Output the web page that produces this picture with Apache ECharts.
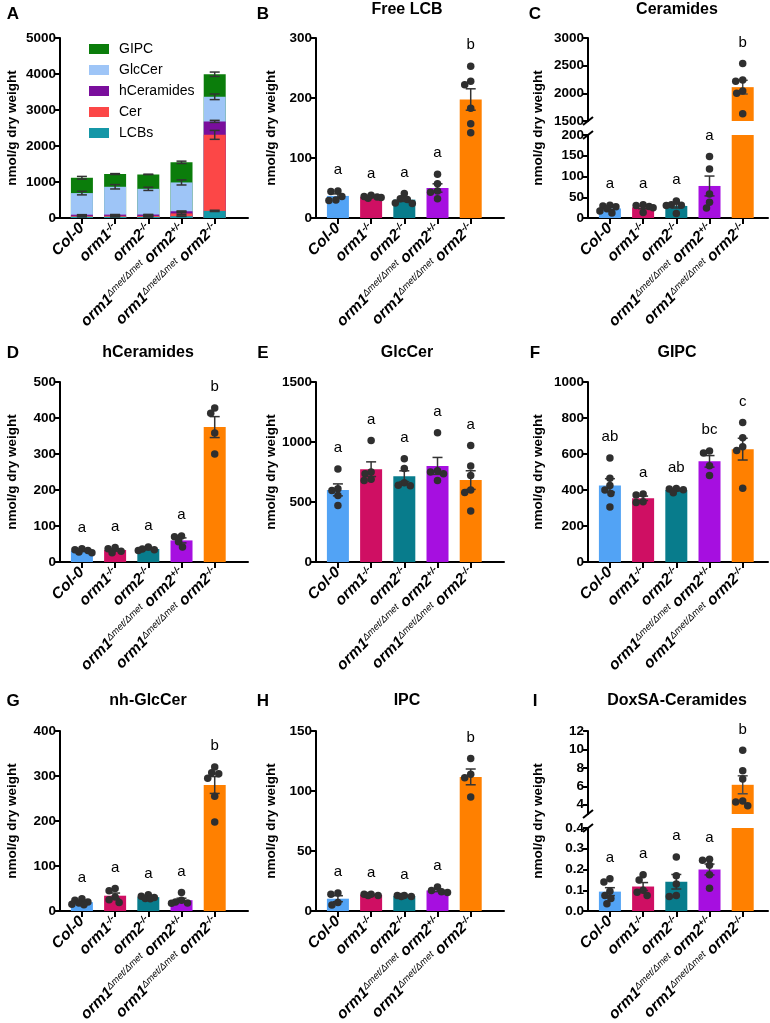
<!DOCTYPE html>
<html><head><meta charset="utf-8">
<script src="https://cdn.jsdelivr.net/npm/echarts@6/dist/echarts.min.js"></script>
<style>html,body{margin:0;padding:0;background:#fff}#c{width:770px;height:1023px}</style>
</head><body><div id="c"></div>
<script>
// ---------------- DATA ----------------
const groups = ['Col-0', 'orm1-/-', 'orm2-/-', 'orm1Δmet/Δmet orm2+/-', 'orm1Δmet/Δmet orm2-/-'];
const groupLabels = [
  '{i|Col-0}',
  '{i|orm1}{s|-/-}',
  '{i|orm2}{s|-/-}',
  '{i|orm1}{d|Δmet/Δmet}{i| orm2}{s|+/-}',
  '{i|orm1}{d|Δmet/Δmet}{i| orm2}{s|-/-}'
];
const groupColors = ['#52a3f5', '#cf0f63', '#087c8c', '#a60fe0', '#ff8000'];

// individual replicate values (nmol/g dry weight)
const freeLcb = [
  [45, 44, 36, 29, 30],
  [38, 36, 35, 33, 34],
  [41, 32, 31, 24, 25],
  [73, 45, 43, 57, 32],
  [253, 228, 222, 183, 157, 142]
];
const ceramides = [
  [31, 29, 27, 17, 12, 22],
  [32, 30, 28, 25, 13],
  [41, 31, 32, 30, 11],
  [148, 118, 58, 38, 24],
  [2540, 2240, 2220, 2040, 2000, 1630]
];
const hCeramides = [
  [37, 34, 32, 26, 28],
  [40, 37, 30, 26],
  [42, 36, 34, 32],
  [72, 70, 56, 42],
  [428, 413, 358, 300]
];
const glcCer = [
  [775, 610, 595, 555, 470],
  [1012, 750, 735, 690, 680],
  [860, 780, 660, 640, 635],
  [1078, 760, 750, 735, 680],
  [970, 800, 720, 600, 580, 425]
];
const gipc = [
  [578, 465, 425, 400, 380, 305],
  [378, 372, 335, 330],
  [405, 408, 402, 385],
  [617, 605, 535, 480],
  [775, 690, 640, 620, 410]
];
const nhGlcCer = [
  [27, 24, 20, 18, 15, 14],
  [50, 45, 31, 25, 19],
  [36, 33, 30, 28, 27],
  [41, 24, 20, 18, 17],
  [320, 307, 305, 295, 255, 198]
];
const ipc = [
  [15, 14, 7, 5],
  [14, 14, 13, 13],
  [13, 13, 12, 12],
  [20, 17, 16, 15.5],
  [127, 114, 111, 95]
];
const doxSaCer = [
  [0.155, 0.14, 0.095, 0.075, 0.06, 0.035],
  [0.175, 0.15, 0.10, 0.09, 0.075],
  [0.26, 0.17, 0.13, 0.075, 0.07],
  [0.25, 0.245, 0.22, 0.175, 0.11],
  [9.9, 7.7, 6.8, 4.4, 4.3, 3.9]
];

const lettersB = ['a', 'a', 'a', 'a', 'b'];
const lettersC = ['a', 'a', 'a', 'a', 'b'];
const lettersD = ['a', 'a', 'a', 'a', 'b'];
const lettersE = ['a', 'a', 'a', 'a', 'a'];
const lettersF = ['ab', 'a', 'ab', 'bc', 'c'];
const lettersG = ['a', 'a', 'a', 'a', 'b'];
const lettersH = ['a', 'a', 'a', 'a', 'b'];
const lettersI = ['a', 'a', 'a', 'a', 'b'];

// stacked panel A (components = means of panels B-F), bottom to top
const stackNames = ['LCBs', 'Cer', 'hCeramides', 'GlcCer', 'GIPC'];
const stackSources = [freeLcb, ceramides, hCeramides, glcCer, gipc];
const stackColors = ['#1597a7', '#fc4747', '#7a0e9c', '#9ec5f7', '#0b7d0b'];
const legendOrder = ['GIPC', 'GlcCer', 'hCeramides', 'Cer', 'LCBs'];

// tick values
const ticksA = [0, 1000, 2000, 3000, 4000, 5000];
const ticksB = [0, 100, 200, 300];
const ticksCLow = [0, 50, 100, 150, 200];
const ticksCUp = [1500, 2000, 2500, 3000];
const ticksD = [0, 100, 200, 300, 400, 500];
const ticksE = [0, 500, 1000, 1500];
const ticksF = [0, 200, 400, 600, 800, 1000];
const ticksG = [0, 100, 200, 300, 400];
const ticksH = [0, 50, 100, 150];
const ticksILow = [0, 0.1, 0.2, 0.3, 0.4];
const ticksIUp = [4, 6, 8, 10, 12];

const yName = 'nmol/g dry weight';

// ---------------- LAYOUT ----------------
const FF = '"Liberation Sans", Arial, Helvetica, sans-serif';
const X_MIN = -0.66, PX_PER_X = 33.2;
const colX = [60, 316, 588], colW = [188, 188, 180];
const rowTop = [38, 382, 731], PLOT_H = 180, SEG_H = 83, SEG_GAP = 14;
const nameGaps = [41, 38, 43];
const titleX = [148, 407, 677], letterX = [13, 263, 535];
const titleY = [10, 353, 701], letterY = [14, 353, 701];

const mean = a => a.reduce((s, v) => s + v, 0) / a.length;
const sem = a => { const m = mean(a); return Math.sqrt(a.reduce((s, v) => s + (v - m) * (v - m), 0) / (a.length - 1)) / Math.sqrt(a.length); };

const RICH = {
  i: { fontFamily: FF, fontSize: 15.5, fontWeight: 'bold', fontStyle: 'italic', color: '#000' },
  s: { fontFamily: FF, fontSize: 9.5, fontWeight: 'bold', fontStyle: 'italic', color: '#000', verticalAlign: 'top' },
  d: { fontFamily: FF, fontSize: 9.5, fontWeight: 'normal', fontStyle: 'italic', color: '#000', verticalAlign: 'top' }
};

const grids = [], xAxes = [], yAxes = [], series = [], graphics = [];

function addGrid(left, top, width, height) {
  grids.push({ left, top, width, height, containLabel: false, outerBoundsMode: 'none' });
  return grids.length - 1;
}
function addXAxis(gi, col, show) {
  xAxes.push({
    type: 'value', gridIndex: gi, min: X_MIN, max: X_MIN + colW[col] / PX_PER_X, show,
    axisLine: { show: true, onZero: false, lineStyle: { color: '#000', width: 2 } },
    axisTick: { show: true, length: 6, customValues: [0, 1, 2, 3, 4], lineStyle: { color: '#000', width: 2 } },
    axisLabel: { show: true, customValues: [0, 1, 2, 3, 4], rotate: 45, margin: 8,
      formatter: v => groupLabels[Math.round(v)], rich: RICH },
    splitLine: { show: false }
  });
  return xAxes.length - 1;
}
function addYAxis(gi, ticks, opts) {
  opts = opts || {};
  const ax = {
    type: 'value', gridIndex: gi, min: opts.min !== undefined ? opts.min : ticks[0], max: ticks[ticks.length - 1],
    axisLine: { show: true, onZero: false, lineStyle: { color: '#000', width: 2 } },
    axisTick: { show: true, length: 5, customValues: ticks, lineStyle: { color: '#000', width: 2 } },
    axisLabel: { show: true, customValues: ticks, color: '#000', fontSize: 13.5, fontWeight: 'bold', fontFamily: FF, margin: 4,
      formatter: opts.fmt ? (v => v.toFixed(opts.fmt)) : (v => String(v)) },
    splitLine: { show: false }
  };
  if (opts.interval) ax.interval = opts.interval;
  if (opts.name) {
    Object.assign(ax, { name: yName, nameLocation: 'middle', nameGap: opts.nameGap, nameRotate: 90, nameMoveOverlap: false,
      nameTextStyle: { fontFamily: FF, fontSize: 13.5, fontWeight: 'bold', color: '#000' } });
  }
  yAxes.push(ax);
  return yAxes.length - 1;
}
function addNameAxis(col, row) {
  const gi = addGrid(colX[col], rowTop[row], colW[col], PLOT_H);
  xAxes.push({ type: 'value', gridIndex: gi, show: false, min: 0, max: 1 });
  const xi = xAxes.length - 1;
  yAxes.push({ type: 'value', gridIndex: gi, min: 0, max: 1,
    axisLine: { show: false }, axisTick: { show: false }, axisLabel: { show: false }, splitLine: { show: false },
    name: yName, nameLocation: 'middle', nameGap: nameGaps[col], nameRotate: 90, nameMoveOverlap: false,
    nameTextStyle: { fontFamily: FF, fontSize: 13.5, fontWeight: 'bold', color: '#000' } });
  return [xi, yAxes.length - 1];
}

function errRender(color) {
  return function (params, api) {
    const x = api.value(0), m = api.value(1), s = api.value(2);
    const t = api.coord([x, m + s]), b = api.coord([x, m - s]);
    const hw = 5, st = { stroke: color, lineWidth: 1.5 };
    return { type: 'group', children: [
      { type: 'line', shape: { x1: t[0], y1: t[1], x2: b[0], y2: b[1] }, style: st },
      { type: 'line', shape: { x1: t[0] - hw, y1: t[1], x2: t[0] + hw, y2: t[1] }, style: st },
      { type: 'line', shape: { x1: b[0] - hw, y1: b[1], x2: b[0] + hw, y2: b[1] }, style: st }
    ] };
  };
}
function addErr(xi, yi, items, color) {
  if (!items.length) return;
  series.push({ type: 'custom', xAxisIndex: xi, yAxisIndex: yi, z: 3, silent: true,
    renderItem: errRender(color || '#333'), data: items });
}
function addBars(xi, yi, items) {
  if (!items.length) return;
  series.push({ type: 'bar', xAxisIndex: xi, yAxisIndex: yi, barWidth: 22, z: 2, silent: true, clip: true,
    data: items.map(it => ({ value: [it[0], it[1]], itemStyle: { color: groupColors[it[0]] } })) });
}
// beeswarm-style horizontal spread (pixels) so overlapping points sit side by side
function swarm(vals, pxPerY, D, cap) {
  const idx = vals.map((v, i) => i).sort((a, b) => vals[b] - vals[a]);
  const cands = [0];
  for (let s = 1; s <= cap; s++) { cands.push(-s, s); }
  const placed = [], off = new Array(vals.length).fill(0);
  idx.forEach(i => {
    const y = vals[i] * pxPerY;
    let best = 0, bestD = -1;
    for (const c of cands) {
      const md = placed.reduce((mn, p) => Math.min(mn, Math.hypot(p.x - c, p.y - y)), Infinity);
      if (md >= D) { best = c; break; }
      if (md > bestD) { bestD = md; best = c; }
    }
    off[i] = best; placed.push({ x: best, y });
  });
  return off;
}
function addDots(xi, yi, dotsByGroup, pxPerY) {
  const data = [];
  dotsByGroup.forEach((vals, g) => {
    if (!vals.length) return;
    const off = swarm(vals, pxPerY, 6.2, 10);
    vals.forEach((v, j) => data.push([g + off[j] / PX_PER_X, v]));
  });
  if (!data.length) return;
  series.push({ type: 'scatter', xAxisIndex: xi, yAxisIndex: yi, z: 4, silent: true, symbolSize: 7.5,
    itemStyle: { color: '#2f2f2f', opacity: 1 }, data });
}
function addLetters(xi, yi, items) {
  if (!items.length) return;
  const texts = items.map(it => it[2]);
  series.push({ type: 'custom', xAxisIndex: xi, yAxisIndex: yi, z: 5, silent: true,
    renderItem: function (params, api) {
      const p = api.coord([api.value(0), api.value(1)]);
      return { type: 'text', x: p[0], y: p[1] - 21,
        style: { text: texts[params.dataIndex], fill: '#000', fontSize: 15, fontFamily: FF,
          align: 'center', verticalAlign: 'middle', textAlign: 'center', textVerticalAlign: 'middle' } };
    },
    data: items.map(it => [it[0], it[1]]) });
}
function headText(x, y, text, size) {
  graphics.push({ type: 'text', x, y, silent: true,
    style: { text, fill: '#000', font: 'bold ' + size + 'px ' + FF,
      align: 'center', verticalAlign: 'middle', textAlign: 'center', textVerticalAlign: 'middle' } });
}

// ---------------- PANEL A (stacked) ----------------
(function () {
  const col = 0, row = 0;
  const gi = addGrid(colX[col], rowTop[row], colW[col], PLOT_H);
  const xi = addXAxis(gi, col, true);
  const yi = addYAxis(gi, ticksA, { interval: 1000, name: true, nameGap: nameGaps[col] });
  // cumulative tops per component (bottom -> top)
  const cum = [0, 0, 0, 0, 0];
  const layers = stackSources.map((src, k) => {
    const ms = src.map(mean), ss = src.map(sem);
    const tops = ms.map((m, g) => (cum[g] += m));
    return { name: stackNames[k], color: stackColors[k], tops, sems: ss };
  });
  // draw tallest layer first so each lower layer paints over it -> stacked look
  layers.slice().reverse().forEach(L => {
    series.push({ type: 'bar', name: L.name, xAxisIndex: xi, yAxisIndex: yi, barWidth: 22, barGap: '-100%',
      z: 2, silent: true, itemStyle: { color: L.color }, data: L.tops.map((t, g) => [g, t]) });
  });
  const errItems = [];
  layers.forEach(L => L.tops.forEach((t, g) => errItems.push([g, t, L.sems[g]])));
  addErr(xi, yi, errItems, '#333');
  headText(letterX[col], letterY[row], 'A', 17);
})();

// ---------------- PANELS B-I ----------------
const panels = [
  { id: 'B', col: 1, row: 0, title: 'Free LCB', dots: freeLcb, letters: lettersB, ticks: ticksB, interval: 100 },
  { id: 'C', col: 2, row: 0, title: 'Ceramides', dots: ceramides, letters: lettersC,
    lower: { ticks: ticksCLow, interval: 50 }, upper: { ticks: ticksCUp, interval: 500 } },
  { id: 'D', col: 0, row: 1, title: 'hCeramides', dots: hCeramides, letters: lettersD, ticks: ticksD, interval: 100 },
  { id: 'E', col: 1, row: 1, title: 'GlcCer', dots: glcCer, letters: lettersE, ticks: ticksE, interval: 500 },
  { id: 'F', col: 2, row: 1, title: 'GIPC', dots: gipc, letters: lettersF, ticks: ticksF, interval: 200 },
  { id: 'G', col: 0, row: 2, title: 'nh-GlcCer', dots: nhGlcCer, letters: lettersG, ticks: ticksG, interval: 100 },
  { id: 'H', col: 1, row: 2, title: 'IPC', dots: ipc, letters: lettersH, ticks: ticksH, interval: 50 },
  { id: 'I', col: 2, row: 2, title: 'DoxSA-Ceramides', dots: doxSaCer, letters: lettersI,
    lower: { ticks: ticksILow, interval: 0.1, fmt: 1 }, upper: { ticks: ticksIUp, min: 3 } }
];

panels.forEach(p => {
  const col = p.col, row = p.row;
  const ms = p.dots.map(mean), ss = p.dots.map(sem);
  const tops = p.dots.map((d, g) => Math.max(Math.max.apply(null, d), ms[g] + ss[g]));
  headText(letterX[col], letterY[row], p.id, 17);
  headText(titleX[col], titleY[row], p.title, 16);
  if (!p.lower) {
    const gi = addGrid(colX[col], rowTop[row], colW[col], PLOT_H);
    const xi = addXAxis(gi, col, true);
    const t = p.ticks;
    const yi = addYAxis(gi, t, { interval: p.interval, name: true, nameGap: nameGaps[col] });
    addBars(xi, yi, ms.map((m, g) => [g, m]));
    addErr(xi, yi, ms.map((m, g) => [g, m, ss[g]]));
    addDots(xi, yi, p.dots, PLOT_H / (t[t.length - 1] - t[0]));
    addLetters(xi, yi, tops.map((tp, g) => [g, tp, p.letters[g]]));
  } else {
    const L = p.lower, U = p.upper;
    const uMin = U.min !== undefined ? U.min : U.ticks[0], uMax = U.ticks[U.ticks.length - 1];
    const lMax = L.ticks[L.ticks.length - 1];
    const giU = addGrid(colX[col], rowTop[row], colW[col], SEG_H);
    const giL = addGrid(colX[col], rowTop[row] + SEG_H + SEG_GAP, colW[col], SEG_H);
    const xiU = addXAxis(giU, col, false);
    const yiU = addYAxis(giU, U.ticks, { min: uMin, interval: U.interval });
    const xiL = addXAxis(giL, col, true);
    const yiL = addYAxis(giL, L.ticks, { interval: L.interval, fmt: L.fmt });
    addNameAxis(col, row);
    addBars(xiL, yiL, ms.map((m, g) => [g, m]));
    addBars(xiU, yiU, ms.map((m, g) => [g, m]).filter(it => it[1] > uMin));
    addErr(xiL, yiL, ms.map((m, g) => [g, m, ss[g]]).filter(it => it[1] < lMax));
    addErr(xiU, yiU, ms.map((m, g) => [g, m, ss[g]]).filter(it => it[1] > uMin), '#4a4a4a');
    addDots(xiL, yiL, p.dots.map(d => d.filter(v => v < uMin)), SEG_H / lMax);
    addDots(xiU, yiU, p.dots.map(d => d.filter(v => v >= uMin)), SEG_H / (uMax - uMin));
    addLetters(xiL, yiL, tops.map((tp, g) => [g, tp, p.letters[g]]).filter(it => it[1] < uMin));
    addLetters(xiU, yiU, tops.map((tp, g) => [g, tp, p.letters[g]]).filter(it => it[1] >= uMin));
    // axis break marks
    [rowTop[row] + SEG_H, rowTop[row] + SEG_H + SEG_GAP].forEach(y => {
      graphics.push({ type: 'line', silent: true, shape: { x1: colX[col] - 5, y1: y + 4, x2: colX[col] + 5, y2: y - 4 },
        style: { stroke: '#000', lineWidth: 2 } });
    });
  }
});

const chart = echarts.init(document.getElementById('c'), null, { renderer: 'canvas' });
chart.setOption({
  animation: false,
  backgroundColor: '#fff',
  textStyle: { fontFamily: FF },
  grid: grids, xAxis: xAxes, yAxis: yAxes, series,
  legend: {
    orient: 'vertical', left: 84, top: 37, itemWidth: 20, itemHeight: 10, itemGap: 7, icon: 'rect',
    selectedMode: false, data: legendOrder,
    textStyle: { fontSize: 14, fontFamily: FF, color: '#000', padding: [0, 0, 0, 5] }
  },
  graphic: graphics
});
</script></body></html>
